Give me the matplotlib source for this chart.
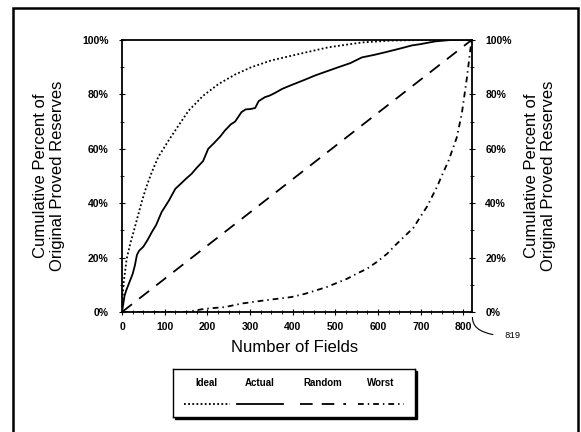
import matplotlib
matplotlib.use("Agg")
import matplotlib.pyplot as plt
from matplotlib.patches import Rectangle
from matplotlib.ticker import MultipleLocator

plt.rcParams['font.family'] = ['Liberation Sans', 'DejaVu Sans']

# curvas (x = numero de campos, y = % acumulado)
ideal_x = [0, 2, 4, 11, 20, 27, 35, 46, 57, 70, 85, 109, 130, 156, 190, 226, 265, 303, 350, 413, 483, 562, 632, 700, 819]
ideal_y = [0, 7, 11, 19.6, 25.5, 29.4, 34, 40.4, 46, 51.5, 57, 63, 68, 74, 79.5, 83.8, 87.3, 90, 92.5, 94.8, 97.3, 99.1, 99.8, 100, 100]

actual_x = [0, 3, 6, 10, 15, 20, 25, 30, 35, 40, 50, 60, 70, 80, 93, 100, 110, 125, 140, 150, 163, 175, 190, 202,
            215, 230, 241, 255, 265, 280, 290, 300, 312, 320, 335, 345, 358, 375, 390, 406, 430, 453, 480, 507,
            535, 562, 590, 617, 650, 679, 700, 734, 770, 819]
actual_y = [0, 3, 6, 8, 10, 12, 14, 17, 21, 22.5, 24, 26.5, 29.4, 32, 36.8, 38.5, 41, 45.3, 47.5, 49, 50.8, 53, 55.5, 60,
            62, 64.5, 66.7, 69, 70, 73.5, 74.5, 74.6, 75, 77.5, 79, 79.5, 80.5, 82, 83, 84, 85.5, 87, 88.5, 90,
            91.5, 93.6, 94.5, 95.5, 96.8, 98, 98.5, 99.5, 100, 100]

random_x = [0, 819]
random_y = [0, 100]

worst_x = [0, 150, 195, 241, 280, 335, 397, 429, 480, 527, 550, 574, 597, 621, 640, 663, 683, 699, 714, 726,
           738, 749, 765, 784, 796, 808, 815, 819]
worst_y = [0, 0, 1.2, 1.8, 3.1, 4.3, 5.5, 6.7, 9.2, 12.2, 14.1, 15.9, 18.4, 21.4, 24.5, 28, 31, 35, 38.6, 42.3,
           46, 50, 55.6, 64, 72.8, 86, 95, 100]

nomes = ['Ideal', 'Actual', 'Random', 'Worst']
estilos = [(0, (1, 1.3)), '-', (0, (7, 5)), (0, (3.2, 2.2, 0.8, 2.2))]

W, H = 581, 432
fig = plt.figure(figsize=(W / 100, H / 100), dpi=100)

# moldura externa
fig.patches.append(Rectangle((13 / W, -0.05), (578 - 13) / W, 1 - 8 / H + 0.05, fill=False,
                             lw=1.8, edgecolor='black', transform=fig.transFigure))

ax = fig.add_axes([122 / W, 1 - 312 / H, (472 - 122) / W, (312 - 40) / H])
lw = 1.3
ax.plot(ideal_x, ideal_y, color='black', lw=lw, linestyle=estilos[0])
ax.plot(actual_x, actual_y, color='black', lw=lw, linestyle=estilos[1])
ax.plot(random_x, random_y, color='black', lw=lw, linestyle=estilos[2])
ax.plot(worst_x, worst_y, color='black', lw=lw, linestyle=estilos[3])

ax.set_xlim(0, 820)
ax.set_ylim(0, 100)
ax.xaxis.set_major_locator(MultipleLocator(100))
ax.xaxis.set_minor_locator(MultipleLocator(25))
ax.yaxis.set_major_locator(MultipleLocator(20))
ax.yaxis.set_minor_locator(MultipleLocator(10))
ax.set_yticklabels([f'{v:.0f}%' for v in ax.get_yticks()])
for s in ax.spines.values():
    s.set_linewidth(1.3)

ax.tick_params(axis='both', which='major', direction='inout', length=5, width=0.8, labelsize=7.5)
ax.tick_params(axis='both', which='minor', direction='inout', length=3, width=0.6)
ax.tick_params(axis='y', which='both', left=True, right=True, labelleft=True, labelright=True)
ax.tick_params(axis='y', which='major', pad=7)
ax.tick_params(axis='x', which='major', pad=5)
for t in ax.get_xticklabels() + ax.get_yticklabels():
    t.set_fontweight('bold')

fig.text(295 / W, 1 - 347 / H, 'Number of Fields', ha='center', va='center', fontsize=12)
rotulo = 'Cumulative Percent of\nOriginal Proved Reserves'
fig.text(49 / W, 1 - 176 / H, rotulo, rotation=90, ha='center', va='center',
         multialignment='center', fontsize=12, linespacing=1.1)
fig.text(540 / W, 1 - 176 / H, rotulo, rotation=90, ha='center', va='center',
         multialignment='center', fontsize=12, linespacing=1.1)

ax.annotate('819', xy=(821, -2), xycoords='data', xytext=(512 / W, 1 - 336 / H), textcoords='figure fraction',
            ha='center', va='center', fontsize=6.5, family='Liberation Mono', annotation_clip=False,
            arrowprops=dict(arrowstyle='-', color='black', lw=0.8, shrinkA=6, shrinkB=0,
                            connectionstyle='angle3,angleA=0,angleB=90'))

# legenda desenhada a mao (com sombra)
fig.patches.append(Rectangle((175 / W, 1 - 419 / H), 242 / W, 48 / H, facecolor='black',
                             edgecolor='black', transform=fig.transFigure, zorder=-1))
leg = fig.add_axes([173 / W, 1 - 417 / H, 242 / W, 48 / H])
leg.set_xlim(0, 1)
leg.set_ylim(0, 1)
leg.set_xticks([])
leg.set_yticks([])
leg.set_facecolor('white')
for s in leg.spines.values():
    s.set_linewidth(1.0)
centros = [0.14, 0.36, 0.62, 0.86]
for nome, c, st in zip(nomes, centros, estilos):
    leg.text(c, 0.71, nome, ha='center', va='center', fontsize=7, fontweight='bold')
    leg.plot([c - 0.095, c + 0.095], [0.27, 0.27], color='black', lw=lw, linestyle=st)

fig.savefig('out.png', dpi=100)
